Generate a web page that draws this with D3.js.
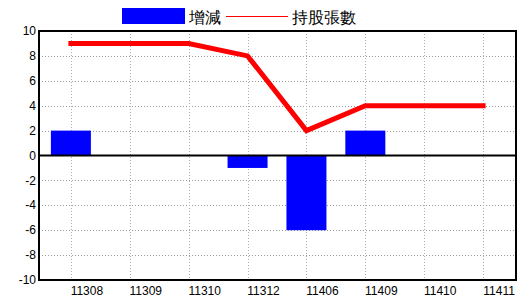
<!DOCTYPE html>
<head>
    <meta charset="utf-8">
    <style>
        body { margin: 0; background: #fff; }
        text { font-family: "Liberation Sans", "DejaVu Sans", sans-serif; }
    </style>
</head>
<body>
    <div id="graph"></div>
    <script src="https://d3js.org/d3.v7.min.js"></script>
    <script>
        const WIDTH = 520;
        const HEIGHT = 300;
        const LEFT = 39, RIGHT = 516, TOP = 31, BOTTOM = 280;

        const categories = ["11308", "11309", "11310", "11312", "11406", "11409", "11410", "11411"];
        const changes = [2, 0, 0, -1, -6, 2, 0, 0];        // 增減
        const holdings = [9, 9, 9, 8, 2, 4, 4, 4];         // 持股張數
        const yTicks = [-10, -8, -6, -4, -2, 0, 2, 4, 6, 8, 10];

        const xScale = d3.scalePoint()
            .domain(categories)
            .range([LEFT - 0.5, RIGHT - 0.5])
            .padding(0.55);

        const yScale = d3.scaleLinear()
            .domain([-10, 10])
            .range([BOTTOM, TOP]);

        const svg = d3.select("#graph")
            .append("svg")
            .attr("width", WIDTH)
            .attr("height", HEIGHT);

        // grid horizontal
        svg.append("g")
            .selectAll("line")
            .data(yTicks.filter(d => d !== 0 && d !== 10 && d !== -10))
            .enter()
            .append("line")
            .attr("x1", LEFT).attr("x2", RIGHT)
            .attr("y1", d => Math.round(yScale(d)) + 0.5)
            .attr("y2", d => Math.round(yScale(d)) + 0.5)
            .attr("stroke", "#999")
            .attr("stroke-dasharray", "1,2");

        // grid vertical
        svg.append("g")
            .selectAll("line")
            .data(categories)
            .enter()
            .append("line")
            .attr("x1", d => Math.round(xScale(d)) + 0.5)
            .attr("x2", d => Math.round(xScale(d)) + 0.5)
            .attr("y1", TOP).attr("y2", BOTTOM)
            .attr("stroke", "#9bb0c4")
            .attr("stroke-dasharray", "1,2");

        // bars
        svg.append("g")
            .selectAll("rect")
            .data(changes.map((v, i) => ({ c: categories[i], v })))
            .enter()
            .append("rect")
            .attr("x", d => xScale(d.c) - 20)
            .attr("width", 40)
            .attr("y", d => yScale(Math.max(0, d.v)))
            .attr("height", d => Math.abs(yScale(d.v) - yScale(0)))
            .attr("fill", "#0000ff");

        // zero line
        svg.append("line")
            .attr("x1", LEFT).attr("x2", RIGHT)
            .attr("y1", yScale(0)).attr("y2", yScale(0))
            .attr("stroke", "#000")
            .attr("stroke-width", 2);

        // line series
        const line = d3.line()
            .x((d, i) => xScale(categories[i]))
            .y(d => yScale(d));

        svg.append("path")
            .datum(holdings)
            .attr("d", line)
            .attr("fill", "none")
            .attr("stroke", "#ff0000")
            .attr("stroke-width", 5)
            .attr("stroke-linecap", "square");

        // frame
        svg.append("rect")
            .attr("x", LEFT).attr("y", TOP)
            .attr("width", RIGHT - LEFT).attr("height", BOTTOM - TOP)
            .attr("fill", "none")
            .attr("stroke", "#000")
            .attr("stroke-width", 2);

        // y axis labels
        svg.append("g")
            .selectAll("text")
            .data(yTicks)
            .enter()
            .append("text")
            .attr("x", LEFT - 3)
            .attr("y", d => yScale(d) + 1)
            .attr("text-anchor", "end")
            .attr("dominant-baseline", "middle")
            .attr("font-size", 12)
            .text(d => d);

        // x axis labels
        svg.append("g")
            .selectAll("text")
            .data(categories)
            .enter()
            .append("text")
            .attr("x", d => xScale(d) + 16)
            .attr("y", BOTTOM + 15)
            .attr("text-anchor", "middle")
            .attr("font-size", 12)
            .text(d => d);

        // legend
        const legend = svg.append("g");
        legend.append("rect")
            .attr("x", 122).attr("y", 8)
            .attr("width", 63).attr("height", 16)
            .attr("fill", "#0000ff");
        legend.append("text")
            .attr("x", 189).attr("y", 23)
            .attr("font-size", 16)
            .attr("font-family", "Noto Sans CJK TC")
            .text("增減");
        legend.append("line")
            .attr("x1", 226).attr("x2", 288)
            .attr("y1", 16.5).attr("y2", 16.5)
            .attr("stroke", "#ff0000")
            .attr("stroke-width", 1);
        legend.append("text")
            .attr("x", 292).attr("y", 23)
            .attr("font-size", 16)
            .attr("font-family", "Noto Sans CJK TC")
            .text("持股張數");
    </script>
</body>
</html>
